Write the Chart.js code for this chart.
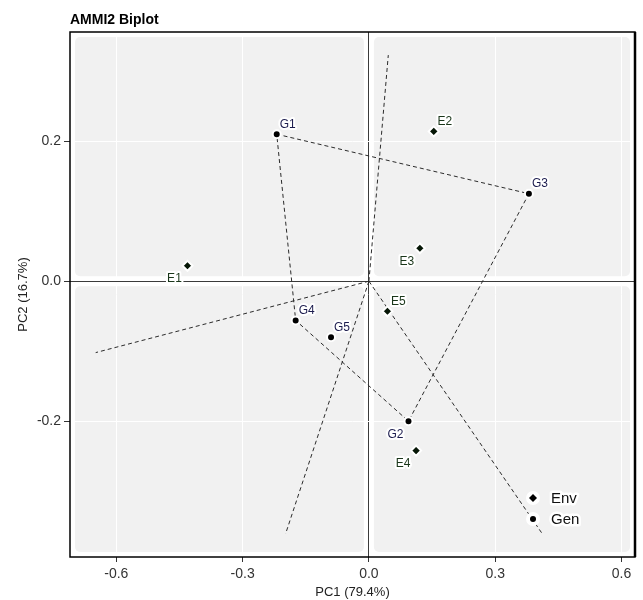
<!DOCTYPE html>
<html lang="en">

<head>
    <meta charset="UTF-8">
    <title>AMMI2 Biplot</title>
    <style>
        body {
            margin: 0;
            background: #fff;
        }

        #wrap {
            width: 643px;
            height: 600px;
        }
    </style>
</head>

<body>
    <div id="wrap">
        <canvas id="myChart" width="643" height="600"></canvas>
    </div>

    <script src="https://cdn.jsdelivr.net/npm/chart.js"></script>

    <script>
        // Environment scores
        const envNames = ['E1', 'E2', 'E3', 'E4', 'E5'];
        const envPC1 = [-0.431, 0.154, 0.121, 0.112, 0.044];
        const envPC2 = [0.022, 0.214, 0.047, -0.242, -0.043];

        // Genotype scores
        const genNames = ['G1', 'G2', 'G3', 'G4', 'G5'];
        const genPC1 = [-0.219, 0.094, 0.380, -0.174, -0.090];
        const genPC2 = [0.210, -0.200, 0.125, -0.056, -0.080];

        // Polygon vertices (genotypes) and rays from the origin
        const hullOrder = ['G1', 'G3', 'G2', 'G4', 'G1'];
        const rayEndPC1 = [0.046, -0.649, -0.198, 0.412];
        const rayEndPC2 = [0.323, -0.102, -0.361, -0.361];

        // Axes
        const xTicks = [-0.6, -0.3, 0.0, 0.3, 0.6];
        const yTicks = [-0.2, 0.0, 0.2];

        // label placement: ne = above right, sw = below left
        const envLabelSide = ['sw', 'ne', 'sw', 'sw', 'ne'];
        const genLabelSide = ['ne', 'sw', 'ne', 'ne', 'ne'];

        const FONT = 'Liberation Sans, Arial, sans-serif';
        const lineColor = '#2b2b2b';

        const envPoints = envNames.map((n, i) => ({ x: envPC1[i], y: envPC2[i] }));
        const genPoints = genNames.map((n, i) => ({ x: genPC1[i], y: genPC2[i] }));
        const hullPoints = hullOrder.map(n => genPoints[genNames.indexOf(n)]);

        const datasets = [];
        datasets.push({
            label: 'hull',
            data: hullPoints,
            showLine: true,
            borderColor: lineColor,
            borderWidth: 1,
            borderDash: [4, 3],
            pointRadius: 0,
            order: 2
        });
        rayEndPC1.forEach((x, i) => {
            datasets.push({
                label: 'ray' + i,
                data: [{ x: 0, y: 0 }, { x: x, y: rayEndPC2[i] }],
                showLine: true,
                borderColor: lineColor,
                borderWidth: 1,
                borderDash: [4, 3],
                pointRadius: 0,
                order: 2
            });
        });
        datasets.push({
            label: 'Env',
            data: envPoints,
            pointStyle: 'rectRot',
            pointRadius: 5,
            backgroundColor: '#061606',
            borderColor: '#ffffff',
            borderWidth: 2,
            order: 0
        });
        datasets.push({
            label: 'Gen',
            data: genPoints,
            pointStyle: 'circle',
            pointRadius: 4,
            backgroundColor: '#000000',
            borderColor: '#ffffff',
            borderWidth: 2,
            order: 0
        });

        // panel background split into rounded quadrants around the zero lines
        const panelPlugin = {
            id: 'panel',
            beforeDraw(chart) {
                const ctx = chart.ctx;
                const a = chart.chartArea;
                const x0 = chart.scales.x.getPixelForValue(0);
                const y0 = chart.scales.y.getPixelForValue(0);
                const gap = 5;
                const boxes = [
                    [a.left + gap, a.top + gap, x0 - gap, y0 - gap],
                    [x0 + gap, a.top + gap, a.right - gap, y0 - gap],
                    [a.left + gap, y0 + gap, x0 - gap, a.bottom - gap],
                    [x0 + gap, y0 + gap, a.right - gap, a.bottom - gap]
                ];
                ctx.save();
                ctx.fillStyle = '#f1f1f1';
                boxes.forEach(b => {
                    ctx.beginPath();
                    ctx.roundRect(b[0], b[1], b[2] - b[0], b[3] - b[1], 5);
                    ctx.fill();
                });
                ctx.restore();
            },
            afterDatasetsDraw(chart) {
                const ctx = chart.ctx;
                const xs = chart.scales.x, ys = chart.scales.y;
                ctx.save();
                ctx.font = '12px ' + FONT;
                ctx.textAlign = 'center';
                ctx.textBaseline = 'middle';
                ctx.lineJoin = 'round';
                const drawLabel = (txt, px, py, side, color) => {
                    const dx = side === 'ne' ? 11 : -13;
                    const dy = side === 'ne' ? -10 : 13;
                    ctx.lineWidth = 4;
                    ctx.strokeStyle = '#ffffff';
                    ctx.strokeText(txt, px + dx, py + dy);
                    ctx.fillStyle = color;
                    ctx.fillText(txt, px + dx, py + dy);
                };
                genNames.forEach((n, i) => {
                    drawLabel(n, xs.getPixelForValue(genPC1[i]), ys.getPixelForValue(genPC2[i]), genLabelSide[i], '#1c1c4e');
                });
                envNames.forEach((n, i) => {
                    drawLabel(n, xs.getPixelForValue(envPC1[i]), ys.getPixelForValue(envPC2[i]), envLabelSide[i], '#1a361a');
                });

                // legend inside the panel
                const a = chart.chartArea;
                const lx = a.right - 102;
                const items = [['Env', 'rectRot', 4], ['Gen', 'circle', 3]];
                items.forEach((it, k) => {
                    const ly = a.bottom - 59 + k * 21;
                    ctx.beginPath();
                    ctx.fillStyle = '#ffffff';
                    ctx.arc(lx, ly, 7, 0, Math.PI * 2);
                    ctx.fill();
                    Chart.helpers.drawPoint(ctx, {
                        pointStyle: it[1], radius: it[2], borderWidth: 0
                    }, lx, ly);
                    ctx.fillStyle = '#000';
                    ctx.fill();
                    ctx.font = '15px ' + FONT;
                    ctx.textAlign = 'left';
                    ctx.lineWidth = 5;
                    ctx.strokeStyle = '#fff';
                    ctx.strokeText(it[0], lx + 18, ly + 1);
                    ctx.fillStyle = '#111';
                    ctx.fillText(it[0], lx + 18, ly + 1);
                });
                ctx.restore();
            },
            afterDraw(chart) {
                const ctx = chart.ctx;
                const a = chart.chartArea;
                ctx.save();
                ctx.strokeStyle = '#000';
                ctx.lineWidth = 1.5;
                ctx.strokeRect(a.left, a.top, a.right - a.left, a.bottom - a.top);
                ctx.lineWidth = 2.5;
                ctx.beginPath();
                ctx.moveTo(a.right, a.top);
                ctx.lineTo(a.right, a.bottom);
                ctx.stroke();

                // titles
                ctx.fillStyle = '#000';
                ctx.font = 'bold 14px ' + FONT;
                ctx.textAlign = 'left';
                ctx.textBaseline = 'middle';
                ctx.fillText('AMMI2 Biplot', a.left, 20);
                ctx.font = '13px ' + FONT;
                ctx.fillStyle = '#222';
                ctx.textAlign = 'center';
                ctx.fillText('PC1 (79.4%)', (a.left + a.right) / 2, 592);
                ctx.translate(23, (a.top + a.bottom) / 2);
                ctx.rotate(-Math.PI / 2);
                ctx.fillText('PC2 (16.7%)', 0, 0);
                ctx.restore();
            }
        };

        const gridColor = c => (c.tick && Math.abs(c.tick.value) < 1e-9) ? '#3a3a3a' : '#ffffff';

        const config = {
            type: 'scatter',
            data: { datasets: datasets },
            options: {
                responsive: false,
                animation: false,
                layout: { padding: { top: 32, right: 8, left: 0, bottom: 0 } },
                plugins: {
                    legend: { display: false },
                    tooltip: { enabled: false }
                },
                scales: {
                    x: {
                        type: 'linear',
                        min: -0.71,
                        max: 0.632,
                        afterBuildTicks: s => { s.ticks = xTicks.map(v => ({ value: v })); },
                        afterFit: s => { s.height = 43; },
                        border: { display: false },
                        grid: {
                            color: gridColor,
                            lineWidth: 1,
                            tickColor: '#333',
                            tickLength: 5
                        },
                        ticks: {
                            padding: 4,
                            color: '#333',
                            font: { family: FONT, size: 14 },
                            callback: v => v.toFixed(1)
                        }
                    },
                    y: {
                        type: 'linear',
                        min: -0.394,
                        max: 0.356,
                        afterBuildTicks: s => { s.ticks = yTicks.map(v => ({ value: v })); },
                        afterFit: s => { s.width = 70; },
                        border: { display: false },
                        grid: {
                            color: gridColor,
                            lineWidth: 1,
                            tickColor: '#333',
                            tickLength: 6
                        },
                        ticks: {
                            padding: 3,
                            color: '#333',
                            font: { family: FONT, size: 14 },
                            callback: v => v.toFixed(1)
                        }
                    }
                }
            },
            plugins: [panelPlugin]
        };

        const myChart = new Chart(document.getElementById('myChart'), config);
    </script>
</body>

</html>
